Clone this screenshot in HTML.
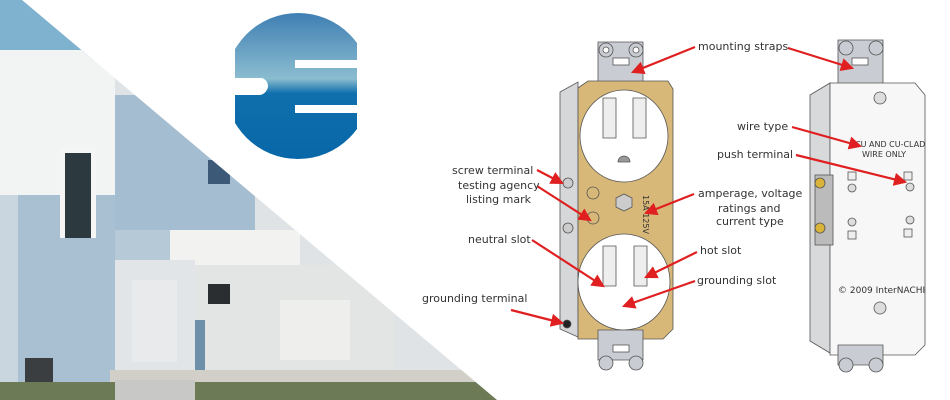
<!DOCTYPE html>
<html><head><meta charset="utf-8"><style>
html,body{margin:0;padding:0;background:#fff;width:950px;height:400px;overflow:hidden}
svg text{font-family:"DejaVu Sans","Liberation Sans",sans-serif;font-size:11px;fill:#333}
</style></head><body>
<svg width="950" height="400" viewBox="0 0 950 400" xmlns="http://www.w3.org/2000/svg">
<defs>
<clipPath id="tri"><polygon points="0,0 22,0 497,400 0,400"/></clipPath>
<linearGradient id="lg" x1="0" y1="0" x2="0" y2="1">
<stop offset="0" stop-color="#3f7fb3"/><stop offset="0.45" stop-color="#8bbdd0"/><stop offset="0.55" stop-color="#1070ad"/><stop offset="1" stop-color="#0767a8"/></linearGradient>
<clipPath id="lc"><rect x="235" y="0" width="122" height="200"/></clipPath>
<marker id="ah" markerWidth="6" markerHeight="6" refX="5" refY="3" orient="auto" markerUnits="strokeWidth"><path d="M0,0 L6,3 L0,6z" fill="#e02020"/></marker>
</defs>
<g clip-path="url(#tri)">
<rect x="0" y="0" width="500" height="400" fill="#dfe3e6"/>
<rect x="0" y="0" width="140" height="60" fill="#7fb2cf"/>
<rect x="0" y="50" width="115" height="145" fill="#f2f3f3"/>
<rect x="0" y="195" width="20" height="205" fill="#c9d6df"/>
<rect x="18" y="195" width="97" height="205" fill="#a9c0d2"/>
<rect x="115" y="95" width="140" height="135" fill="#a5bdd0"/>
<rect x="115" y="230" width="60" height="30" fill="#b6c9d6"/>
<rect x="170" y="230" width="130" height="35" fill="#f2f2f1"/>
<rect x="115" y="260" width="80" height="130" fill="#e1e5e8"/>
<rect x="195" y="265" width="200" height="120" fill="#e3e4e4"/>
<rect x="280" y="300" width="70" height="60" fill="#eeeeec"/>
<rect x="60" y="148" width="36" height="90" fill="#f5f5f5"/>
<rect x="65" y="153" width="26" height="85" fill="#2c3a40"/>
<rect x="132" y="280" width="45" height="82" fill="#e8eaeb"/>
<rect x="208" y="284" width="22" height="20" fill="#2a2e30"/>
<rect x="208" y="160" width="22" height="24" fill="#3c5a78"/>
<rect x="25" y="358" width="28" height="26" fill="#3a3e40"/>
<rect x="195" y="320" width="10" height="70" fill="#6d8fa8"/>
<rect x="110" y="370" width="400" height="12" fill="#d2cfc8"/>
<rect x="0" y="382" width="500" height="18" fill="#6c7a56"/>
<rect x="115" y="380" width="80" height="20" fill="#c8c9c6"/>
</g>
<g clip-path="url(#lc)">
<circle cx="298" cy="86" r="73" fill="url(#lg)"/>
</g>
<path d="M235,78 H262 Q268,80 268,87 Q266,94 260,95 H235z" fill="#fff"/>
<rect x="295" y="60" width="62" height="8" fill="#fff"/>
<rect x="295" y="105" width="62" height="8" fill="#fff"/>
<g stroke="#555" stroke-width="0.8">
<path d="M598,42 h45 v48 h-45z" fill="#c9ccd2"/>
<circle cx="606" cy="50" r="7" fill="#c9ccd2"/><circle cx="636" cy="50" r="7" fill="#c9ccd2"/>
<circle cx="606" cy="50" r="3" fill="#fff"/><circle cx="636" cy="50" r="3" fill="#fff"/>
<rect x="613" y="58" width="16" height="7" fill="#fff"/>
<path d="M560,92 l18,-10 v255 l-18,-8z" fill="#d6d7d8"/>
<path d="M578,88 l10,-7 h80 l5,8 v240 l-10,10 h-85z" fill="#d7b879"/>
<ellipse cx="624" cy="136" rx="44" ry="46" fill="#fff"/>
<ellipse cx="624" cy="282" rx="46" ry="48" fill="#fff"/>
<path d="M603,98 h13 v40 h-13z M633,98 h13 v40 h-13z" fill="#eee"/>
<path d="M603,246 h13 v40 h-13z M634,246 h13 v40 h-13z" fill="#eee"/>
<path d="M618,162 a6,6 0 0 1 12,0z" fill="#999"/>
<polygon points="616,198 624,194 632,198 632,207 624,211 616,207" fill="#ccc"/>
<circle cx="593" cy="193" r="6" fill="none"/><circle cx="593" cy="218" r="6" fill="none"/>
<circle cx="568" cy="183" r="5" fill="#ccc"/><circle cx="568" cy="228" r="5" fill="#ccc"/>
<circle cx="567" cy="324" r="4" fill="#222"/>
<path d="M598,330 h45 v30 h-45z" fill="#c9ccd2"/>
<circle cx="606" cy="363" r="7" fill="#c9ccd2"/><circle cx="636" cy="363" r="7" fill="#c9ccd2"/>
<rect x="613" y="345" width="16" height="7" fill="#fff"/>
</g>
<g stroke="#555" stroke-width="0.8">
<path d="M838,40 h45 v45 h-45z" fill="#c9ccd2"/>
<circle cx="846" cy="48" r="7" fill="#c9ccd2"/><circle cx="876" cy="48" r="7" fill="#c9ccd2"/>
<rect x="852" y="58" width="16" height="7" fill="#fff"/>
<path d="M810,95 l20,-12 v270 l-20,-12z" fill="#d8d9da"/>
<path d="M830,83 h85 l10,12 v250 l-10,10 h-85z" fill="#f7f7f7"/>
<circle cx="880" cy="98" r="6" fill="#ddd"/><circle cx="880" cy="308" r="6" fill="#ddd"/>
<rect x="815" y="175" width="18" height="70" fill="#bbb"/>
<circle cx="820" cy="183" r="5" fill="#d9b33a"/><circle cx="820" cy="228" r="5" fill="#d9b33a"/>
<rect x="848" y="172" width="8" height="8" fill="#eee"/><circle cx="852" cy="188" r="4" fill="#ddd"/>
<circle cx="852" cy="222" r="4" fill="#ddd"/><rect x="848" y="231" width="8" height="8" fill="#eee"/>
<rect x="904" y="172" width="8" height="8" fill="#eee"/><circle cx="910" cy="187" r="4" fill="#ddd"/>
<circle cx="910" cy="220" r="4" fill="#ddd"/><rect x="904" y="229" width="8" height="8" fill="#eee"/>
<path d="M838,345 h45 v20 h-45z" fill="#c9ccd2"/>
<circle cx="846" cy="365" r="7" fill="#c9ccd2"/><circle cx="876" cy="365" r="7" fill="#c9ccd2"/>
</g>
<text x="855" y="147" style="font-size:8px">CU AND CU-CLAD</text>
<text x="862" y="157" style="font-size:8px">WIRE ONLY</text>
<text x="838" y="293" style="font-size:9px">© 2009 InterNACHI</text>
<text x="643" y="195" style="font-size:8px" transform="rotate(90 643 195)">15A 125V</text>
<g stroke="#e02020" stroke-width="2.2" fill="none" marker-end="url(#ah)">
<line x1="695" y1="47" x2="633" y2="72"/>
<line x1="788" y1="48" x2="852" y2="68"/>
<line x1="792" y1="127" x2="860" y2="146"/>
<line x1="796" y1="155" x2="905" y2="182"/>
<line x1="694" y1="194" x2="646" y2="213"/>
<line x1="697" y1="252" x2="646" y2="277"/>
<line x1="695" y1="281" x2="624" y2="306"/>
<line x1="537" y1="170" x2="562" y2="183"/>
<line x1="537" y1="186" x2="590" y2="220"/>
<line x1="532" y1="240" x2="603" y2="286"/>
<line x1="511" y1="310" x2="562" y2="323"/>
</g>
<text x="698" y="50">mounting straps</text>
<text x="737" y="130">wire type</text>
<text x="717" y="158">push terminal</text>
<text x="698" y="197">amperage, voltage</text>
<text x="718" y="212">ratings and</text>
<text x="716" y="225">current type</text>
<text x="700" y="254">hot slot</text>
<text x="697" y="284">grounding slot</text>
<text x="452" y="174">screw terminal</text>
<text x="458" y="189">testing agency</text>
<text x="466" y="203">listing mark</text>
<text x="468" y="243">neutral slot</text>
<text x="422" y="302">grounding terminal</text>
</svg>
</body></html>
